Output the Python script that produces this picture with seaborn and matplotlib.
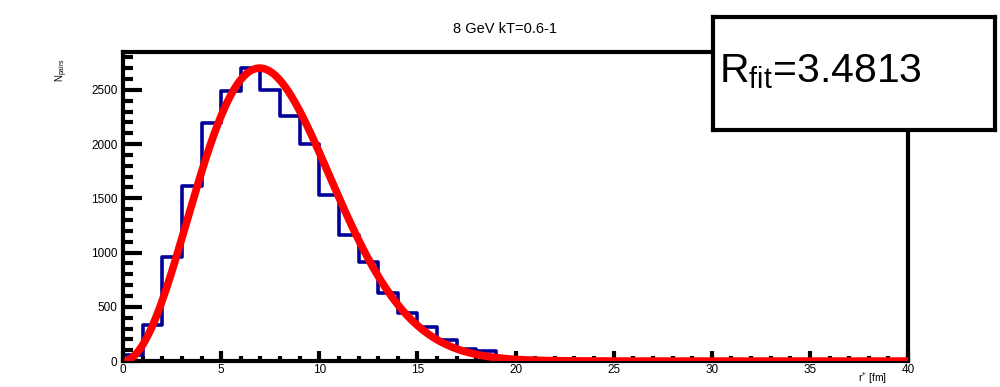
import numpy as np
import matplotlib
matplotlib.use("Agg")
import matplotlib.pyplot as plt
import seaborn as sns

# ---- data ----
bin_edges = list(range(0, 41))
bin_counts = [60, 335, 955, 1610, 2190, 2485, 2700, 2500, 2255, 2005,
              1530, 1165, 915, 632, 442, 318, 195, 110, 92, 30,
              12, 6, 3, 2, 1, 0, 0, 0, 0, 0,
              0, 0, 0, 0, 0, 0, 0, 0, 0, 0]
title = "8 GeV kT=0.6-1"
r_fit = 3.4813
fit_norm = 151.4
fit_range = [0.25, 40]
x_ticks = [0, 5, 10, 15, 20, 25, 30, 35, 40]
y_ticks = [0, 500, 1000, 1500, 2000, 2500]

sns.set_style("white")
plt.rcParams['font.family'] = ['Liberation Sans', 'DejaVu Sans']
plt.rcParams['text.color'] = 'black'
plt.rcParams['xtick.color'] = 'black'
plt.rcParams['ytick.color'] = 'black'

fig = plt.figure(figsize=(10, 3.87), dpi=100)
ax = fig.add_axes([0.123, 0.067, 0.785, 0.799])

centers = [e + 0.5 for e in bin_edges[:-1]]
sns.histplot(x=centers, weights=bin_counts, bins=bin_edges, element="step",
             fill=False, color="#000099", linewidth=2.6, ax=ax)

r = np.linspace(fit_range[0], fit_range[1], 800)
fit_vals = fit_norm * r**2 * np.exp(-r**2 / (4 * r_fit**2))
sns.lineplot(x=r, y=fit_vals, color="#ff0000", linewidth=5.5, ax=ax,
             solid_capstyle="round", zorder=5)

ax.set_xlim(0, 40)
ax.set_ylim(0, 2850)
ax.set_xticks(x_ticks)
ax.set_yticks(y_ticks)
ax.set_xticks(np.arange(0, 41, 1), minor=True)
ax.set_yticks(np.arange(0, 2851, 100), minor=True)
ax.tick_params(axis='both', which='both', direction='in', width=3,
               bottom=True, left=True, top=False, right=False)
ax.tick_params(axis='y', which='major', length=14, labelsize=8.5, pad=4)
ax.tick_params(axis='y', which='minor', length=7.5)
ax.tick_params(axis='x', which='major', length=7, labelsize=8.5, pad=2)
ax.tick_params(axis='x', which='minor', length=3.5)
for s in ax.spines.values():
    s.set_linewidth(3)
    s.set_color("black")
ax.set_xlabel("")
ax.set_ylabel("")

fig.text(0.505, 0.925, title, ha='center', va='center', fontsize=10.5)
fig.text(0.062, 0.82, r"N$_{\mathregular{pairs}}$", rotation=90, ha='center',
         va='center', fontsize=7)
fig.text(0.872, 0.002, r"r$^{*}$ [fm]", ha='center', va='bottom', fontsize=7.5)

# R_fit box
box = fig.add_axes([0.713, 0.665, 0.282, 0.29])
box.set_xticks([]); box.set_yticks([])
box.set_facecolor("white")
for s in box.spines.values():
    s.set_linewidth(3)
    s.set_color("black")
box.text(0.02, 0.52, r"R$_{\mathregular{fit}}$=3.4813", transform=box.transAxes,
         ha='left', va='center', fontsize=29.5, color='black')

fig.savefig("out.png", dpi=100)
